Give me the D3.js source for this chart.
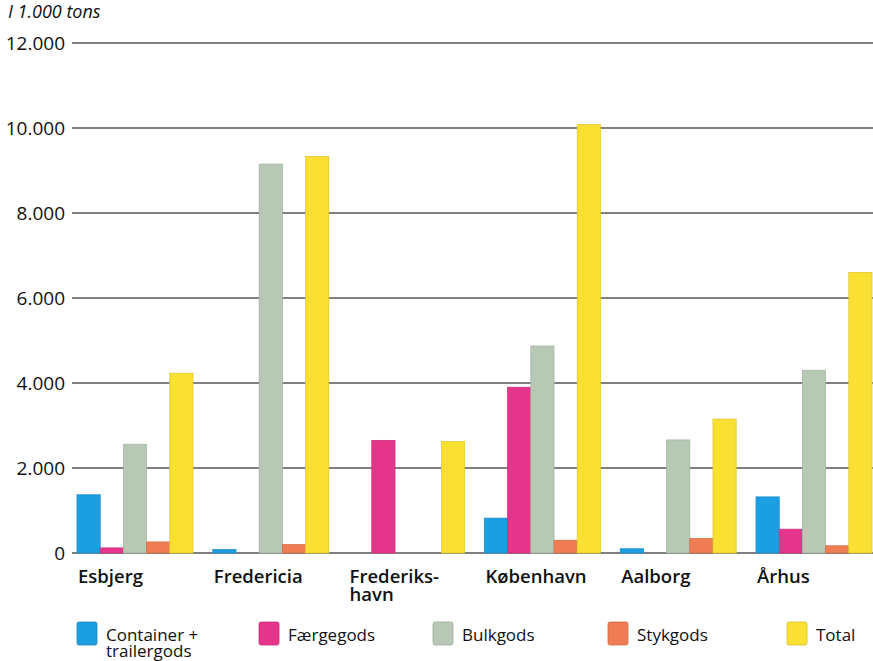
<!DOCTYPE html>
<html>
<head>
<meta charset="utf-8">
<script src="https://cdn.jsdelivr.net/npm/d3@7"></script>
<style>
  html, body { margin: 0; padding: 0; background: #fff; }
  svg { display: block; }
  text { font-family: "Open Sans", "Noto Sans", sans-serif; fill: #111; }
</style>
</head>
<body>
<svg id="chart" width="873" height="661"></svg>
<script>
// Havne og godsmængder, i 1.000 tons
const ports = ["Esbjerg", "Fredericia", "Frederiks-\nhavn", "København", "Aalborg", "Århus"];
const container = [1370, 80, 0, 820, 100, 1320];
const faergegods = [120, 0, 2650, 3900, 0, 560];
const bulkgods = [2560, 9150, 0, 4870, 2660, 4300];
const stykgods = [260, 200, 0, 300, 340, 170];
const total = [4230, 9330, 2620, 10080, 3150, 6600];
const yTicks = [0, 2000, 4000, 6000, 8000, 10000, 12000];

const seriesNames = ["Container +\ntrailergods", "Færgegods", "Bulkgods", "Stykgods", "Total"];
const seriesValues = [container, faergegods, bulkgods, stykgods, total];
const seriesColors = ["#1c9ee2", "#e5358a", "#b7c9b5", "#ef7c52", "#f9e032"];

const svg = d3.select("#chart");

const y = d3.scaleLinear().domain([0, 12000]).range([553, 43]);
const x0 = d3.scaleBand().domain(ports).range([77, 872]).paddingInner(0.146).paddingOuter(0);
const x1 = d3.scaleBand().domain(d3.range(seriesNames.length)).range([0, x0.bandwidth()]).padding(0);

const fmt = v => d3.format(",")(v).replace(/,/g, ".");

// gridlines and tick labels
const grid = svg.append("g");
grid.selectAll("line").data(yTicks).join("line")
  .attr("x1", 72).attr("x2", 873)
  .attr("y1", d => y(d)).attr("y2", d => y(d))
  .attr("stroke", "#808080").attr("stroke-width", 2);
grid.selectAll("text").data(yTicks).join("text")
  .attr("x", 65).attr("y", d => y(d) + 7)
  .attr("text-anchor", "end")
  .style("font-size", "19px").style("font-weight", 500)
  .text(d => fmt(d));

svg.append("text").attr("x", 8).attr("y", 18)
  .style("font-size", "18px").style("font-style", "italic").style("font-weight", 500)
  .text("I 1.000 tons");

// bars
const rows = ports.map((p, i) => ({ port: p, vals: seriesValues.map(s => s[i]) }));
const groups = svg.append("g").selectAll("g").data(rows).join("g")
  .attr("transform", d => `translate(${x0(d.port)},0)`);
groups.selectAll("rect").data(d => d.vals.map((v, k) => ({ v, k })).filter(e => e.v > 0)).join("rect")
  .attr("x", e => x1(e.k))
  .attr("width", x1.bandwidth())
  .attr("y", e => y(e.v))
  .attr("height", e => y(0) - y(e.v))
  .attr("fill", e => seriesColors[e.k])
  .attr("stroke", e => d3.color(seriesColors[e.k]).darker(0.3))
  .attr("stroke-width", 0.8);

// category labels (two-line names get one text per line)
const catG = svg.append("g").selectAll("g").data(ports).join("g")
  .attr("transform", p => `translate(${x0(p) + 1},583)`);
catG.selectAll("text").data(p => p.split("\n")).join("text")
  .attr("y", (d, i) => i * 18)
  .style("font-size", "18.5px").style("font-weight", 600)
  .text(d => d);

// legend
const legendX = [77, 259, 433, 608, 787];
const leg = svg.append("g").selectAll("g").data(seriesNames).join("g")
  .attr("transform", (d, i) => `translate(${legendX[i]},622)`);
leg.append("rect").attr("width", 20).attr("height", 23).attr("rx", 2)
  .attr("fill", (d, i) => seriesColors[i])
  .attr("stroke", (d, i) => d3.color(seriesColors[i]).darker(0.4)).attr("stroke-width", 0.8);
leg.selectAll("text").data(d => d.split("\n")).join("text")
  .attr("x", 29).attr("y", (d, i) => 19 + i * 16)
  .style("font-size", "17px").style("font-weight", 500)
  .text(d => d);
</script>
</body>
</html>
